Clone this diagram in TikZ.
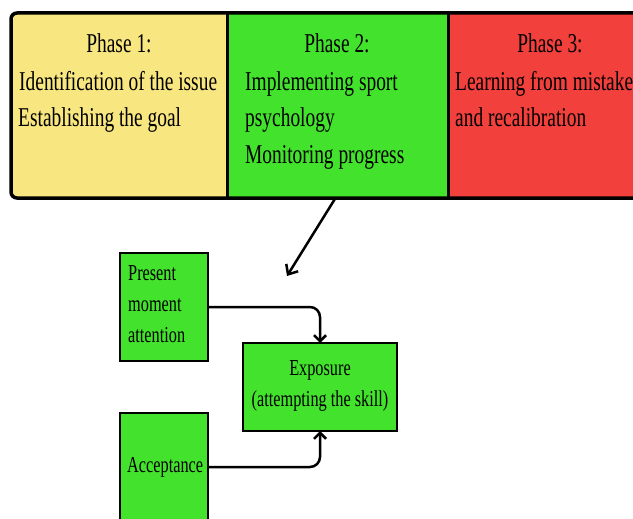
\documentclass[tikz,border=0pt]{standalone}
\usepackage{fontspec}
\newfontfamily\dfont[FakeStretch=0.714]{Liberation Serif}
\usetikzlibrary{arrows.meta}
\definecolor{pyellow}{RGB}{248,230,128}
\definecolor{pgreen}{RGB}{67,227,45}
\definecolor{pred}{RGB}{242,64,61}
\begin{document}
\begin{tikzpicture}[x=1pt,y=-1pt,
  big/.style={font=\dfont\fontsize{27.2}{37}\selectfont, inner sep=0pt},
  small/.style={font=\dfont\fontsize{22.8}{31}\selectfont, inner sep=0pt},
  panel/.style={inner sep=0pt, outer sep=0pt},
  divider/.style={draw=black, line width=3pt},
  gbox/.style={draw=black, line width=2.6pt, fill=pgreen, inner sep=0pt, outer sep=0pt, minimum width=88pt, minimum height=108pt},
  conn/.style={draw=black, line width=2.5pt, -{Straight Barb[length=6pt,width=12pt]}, rounded corners=10pt},
]
\useasboundingbox (0,0) rectangle (633,519);
\clip (0,0) rectangle (633,519);
% phase panels
\begin{scope}
\clip[rounded corners=6pt] (11,13) rectangle (660,198);
\node[panel, fill=pyellow, minimum width=216pt, minimum height=185pt] (ph1) at (119,105.5) {};
\node[panel, fill=pgreen, minimum width=221pt, minimum height=185pt] (ph2) at (337.5,105.5) {};
\node[panel, fill=pred, minimum width=212pt, minimum height=185pt] (ph3) at (554,105.5) {};
\end{scope}
\draw[divider] (ph1.north east) -- (ph1.south east);
\draw[divider] (ph2.north east) -- (ph2.south east);
\draw[line width=3.5pt, rounded corners=6pt] (11,13) rectangle (660,198);
% phase texts
\node[big, anchor=base] (t1a) at (119,53) {Phase 1:};
\node[big, anchor=base west] (t1b) at (19,90.5) {Identification of the issue};
\node[big, anchor=base west] (t1c) at (18,127) {Establishing the goal};
\node[big, anchor=base] (t2a) at (337,53) {Phase 2:};
\node[big, anchor=base west] (t2b) at (245,90.5) {Implementing sport};
\node[big, anchor=base west] (t2c) at (245,127) {psychology};
\node[big, anchor=base west] (t2d) at (245,164) {Monitoring progress};
\node[big, anchor=base] (t3a) at (550,53) {Phase 3:};
\node[big, anchor=base west] (t3b) at (455,90.5) {Learning from mistakes};
\node[big, anchor=base west] (t3c) at (455,127) {and recalibration};
% lower boxes
\node[gbox] (pres) at (164,307) {};
\node[small, anchor=base west] (p1) at (128,280) {Present};
\node[small, anchor=base west] (p2) at (128,311) {moment};
\node[small, anchor=base west] (p3) at (128,342) {attention};
\node[gbox, minimum width=154pt, minimum height=88pt] (expo) at (320,387) {};
\node[small, anchor=base] (e1) at (320,375) {Exposure};
\node[small, anchor=base] (e2) at (320,406) {(attempting the skill)};
\node[gbox] (acc) at (164,467) {};
\node[small, anchor=base west] (a1) at (127,472) {Acceptance};
% connectors
\coordinate (tip) at (287,276);
\draw[line width=2.5pt, -{Straight Barb[length=8pt,width=14pt]}] ([xshift=-2pt]ph2.south) -- (tip);
\draw[conn] (pres.east) -| (expo.north);
\draw[conn] (acc.east) -| (expo.south);
\end{tikzpicture}
\end{document}
